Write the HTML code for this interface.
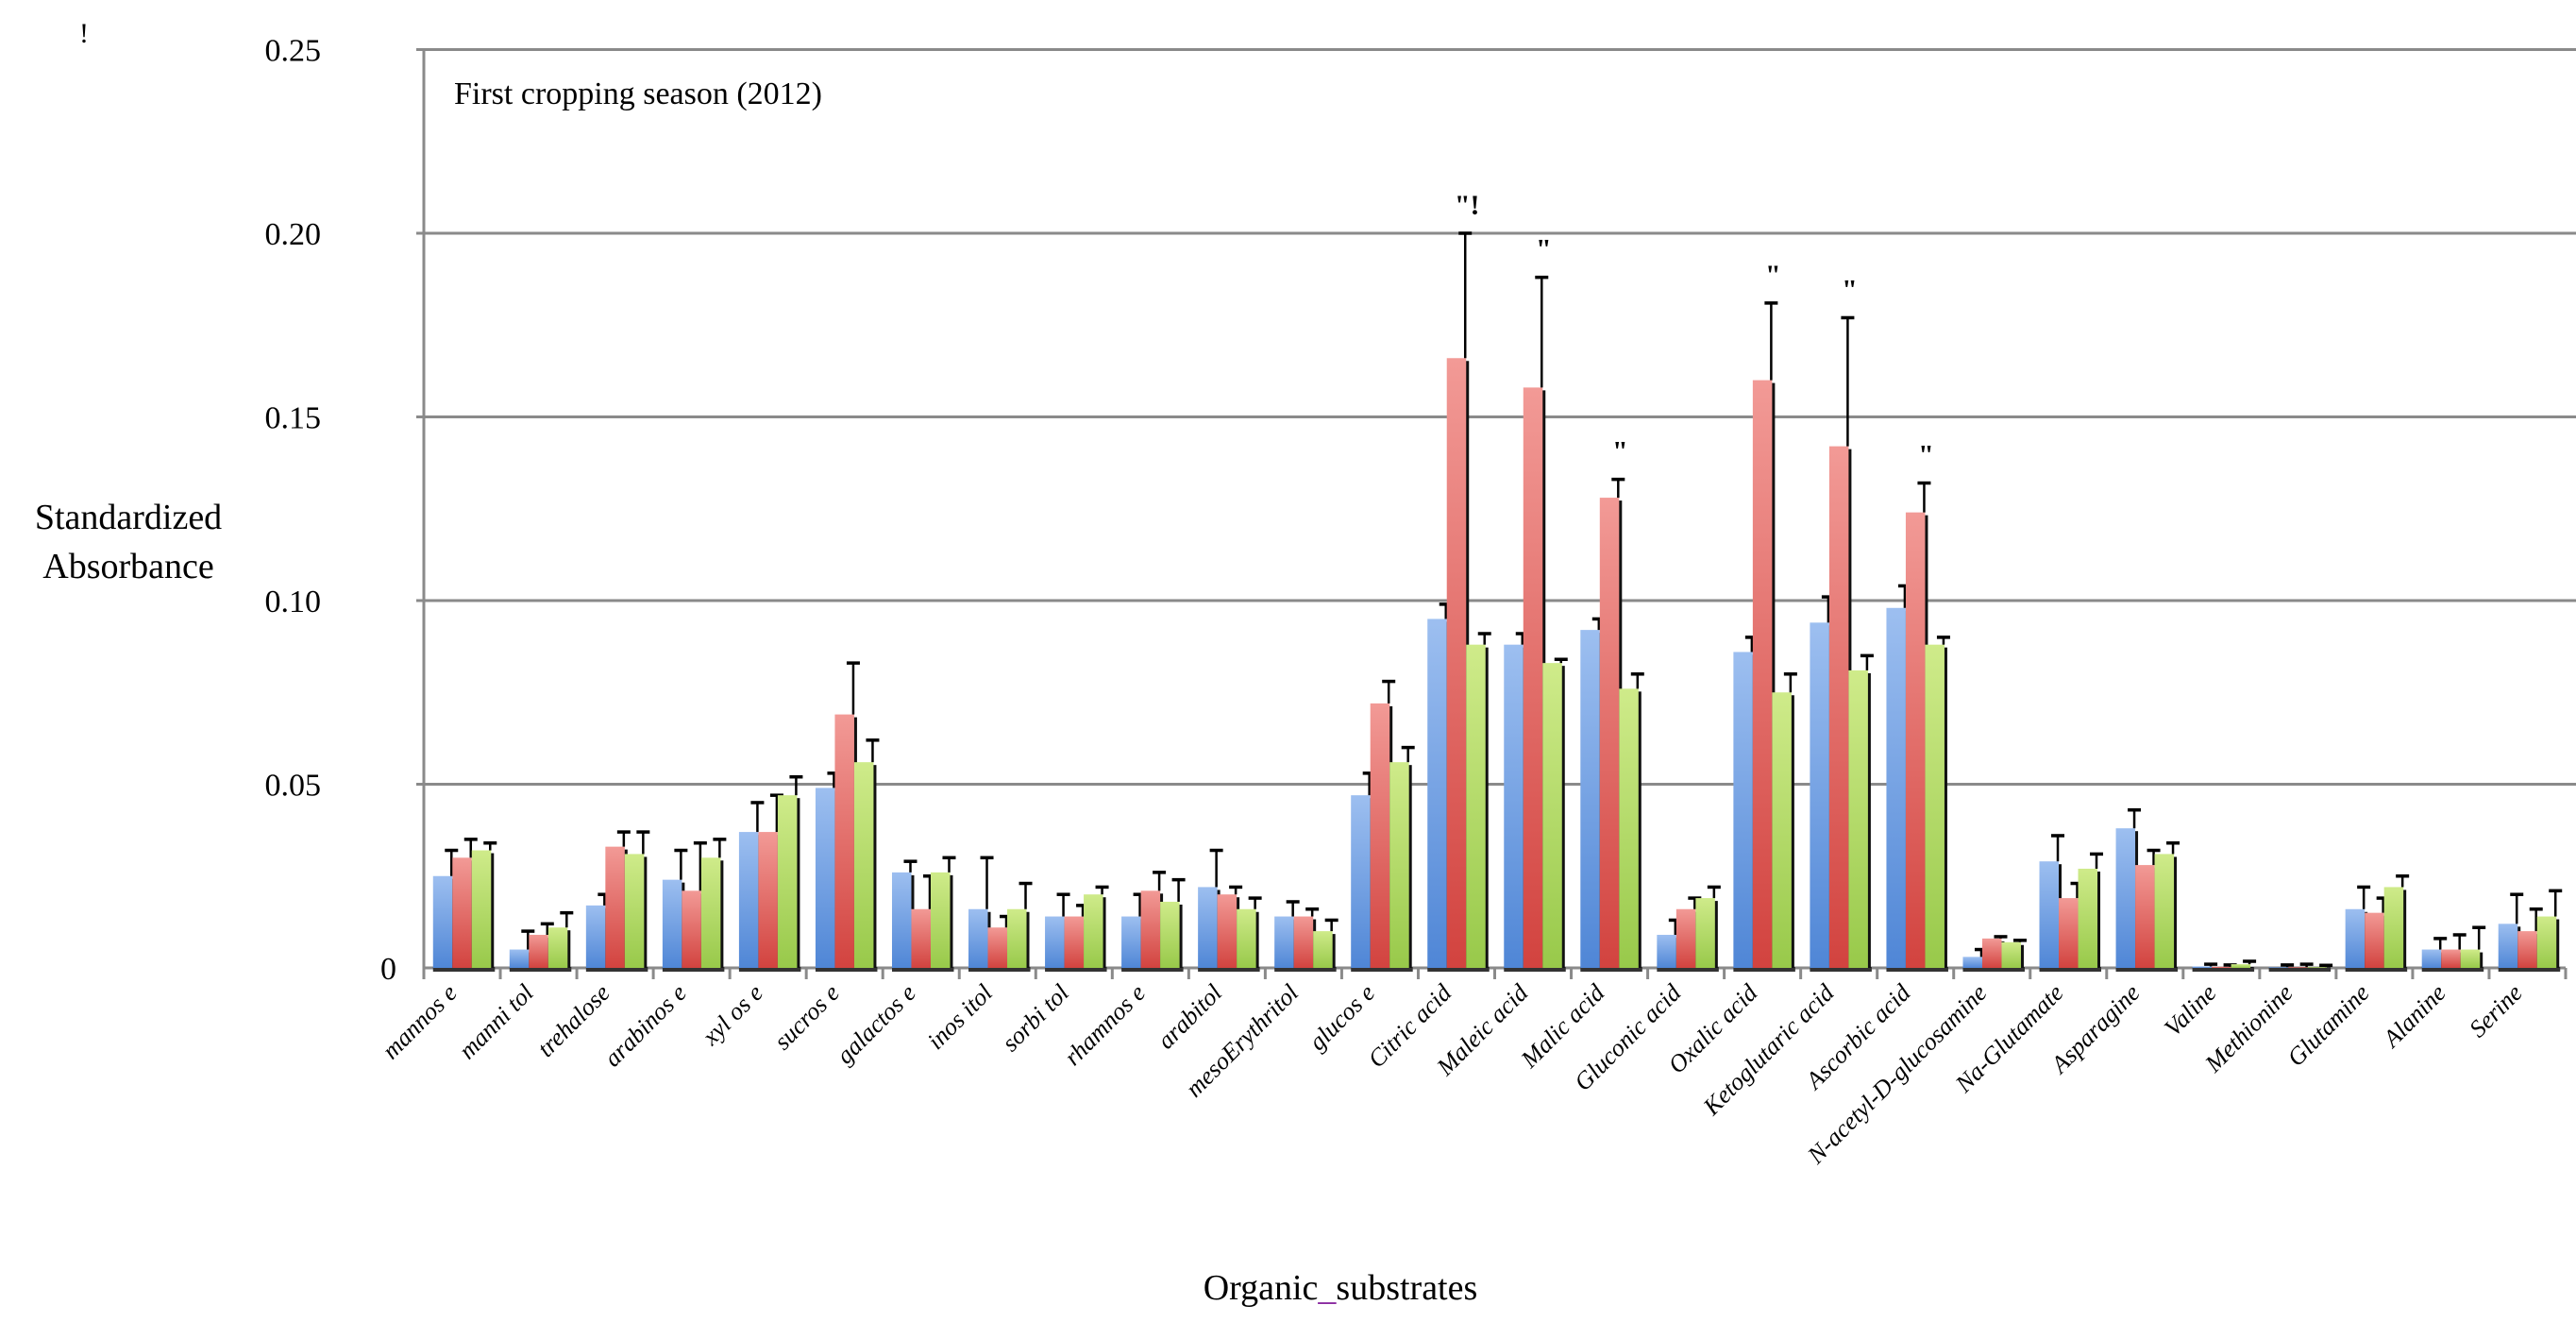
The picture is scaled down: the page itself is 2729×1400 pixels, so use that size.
<!DOCTYPE html>
<html><head><meta charset="utf-8"><style>
html,body{margin:0;padding:0;background:#fff;}
svg{display:block;font-family:"Liberation Serif",serif;}
</style></head><body>
<svg id="chart" width="2729" height="1400" viewBox="0 0 2729 1400" xmlns="http://www.w3.org/2000/svg">
<defs>
<linearGradient id="gb" x1="0" x2="0" y1="0" y2="1"><stop offset="0" stop-color="#9dbff0"/><stop offset="1" stop-color="#4f86d6"/></linearGradient>
<linearGradient id="gr" x1="0" x2="0" y1="0" y2="1"><stop offset="0" stop-color="#f29a96"/><stop offset="1" stop-color="#d2433f"/></linearGradient>
<linearGradient id="gg" x1="0" x2="0" y1="0" y2="1"><stop offset="0" stop-color="#cfeb8a"/><stop offset="1" stop-color="#98c94a"/></linearGradient>
</defs>
<g id="grid"></g>
<g id="bars"></g>
<g id="labels"></g>
<text x="84" y="45" font-size="30">!</text>
<text x="481" y="110" font-size="34">First cropping season (2012)</text>
<text x="136" y="560" font-size="38" text-anchor="middle">Standardized</text>
<text x="136" y="612" font-size="38" text-anchor="middle">Absorbance</text>
<text x="1420" y="1376" font-size="38" text-anchor="middle">Organic<tspan fill="#8a2aa0">_</tspan>substrates</text>
</svg>
<script>
const categories=["mannos e","manni tol","trehalose","arabinos e","xyl os e","sucros e","galactos e","inos itol","sorbi tol","rhamnos e","arabitol","mesoErythritol","glucos e","Citric acid","Maleic acid","Malic acid","Gluconic acid","Oxalic acid","Ketoglutaric acid","Ascorbic acid","N-acetyl-D-glucosamine","Na-Glutamate","Asparagine","Valine","Methionine","Glutamine","Alanine","Serine"];
const blueVals=[0.025,0.005,0.017,0.024,0.037,0.049,0.026,0.016,0.014,0.014,0.022,0.014,0.047,0.095,0.088,0.092,0.009,0.086,0.094,0.098,0.003,0.029,0.038,0.0004,0.0002,0.016,0.005,0.012];
const blueErr=[0.007,0.005,0.003,0.008,0.008,0.004,0.003,0.014,0.006,0.006,0.010,0.004,0.006,0.004,0.003,0.003,0.004,0.004,0.007,0.006,0.002,0.007,0.005,0.0006,0.0006,0.006,0.003,0.008];
const redVals=[0.030,0.009,0.033,0.021,0.037,0.069,0.016,0.011,0.014,0.021,0.020,0.014,0.072,0.166,0.158,0.128,0.016,0.160,0.142,0.124,0.008,0.019,0.028,0.0003,0.0002,0.015,0.005,0.010];
const redErr=[0.005,0.003,0.004,0.013,0.010,0.014,0.009,0.003,0.003,0.005,0.002,0.002,0.006,0.034,0.030,0.005,0.003,0.021,0.035,0.008,0.0005,0.004,0.004,0.0005,0.0008,0.004,0.004,0.006];
const greenVals=[0.032,0.011,0.031,0.030,0.047,0.056,0.026,0.016,0.020,0.018,0.016,0.010,0.056,0.088,0.083,0.076,0.019,0.075,0.081,0.088,0.007,0.027,0.031,0.001,0.0002,0.022,0.005,0.014];
const greenErr=[0.002,0.004,0.006,0.005,0.005,0.006,0.004,0.007,0.002,0.006,0.003,0.003,0.004,0.003,0.001,0.004,0.003,0.005,0.004,0.002,0.0005,0.004,0.003,0.0008,0.0005,0.003,0.006,0.007];
const markers=['','','','','','','','','','','','','','"!','"','"','','"','"','"','','','','','','','',''];
const yTicks=[0,0.05,0.10,0.15,0.20,0.25];
const yTickLabels=["0","0.05","0.10","0.15","0.20","0.25"];

const NS="http://www.w3.org/2000/svg";
const X0=449,X1=2718,Y0=1025,YS=3890;
const cw=(X1-X0)/categories.length;
const y=v=>Y0-v*YS;
const xc=i=>X0+cw*(i+0.5);
function mk(tag,attrs,parent){const e=document.createElementNS(NS,tag);for(const k in attrs)e.setAttribute(k,attrs[k]);parent.appendChild(e);return e;}
const grid=document.getElementById('grid'),bars=document.getElementById('bars'),labels=document.getElementById('labels');

yTicks.forEach((t,i)=>{
  if(t>0){const l=mk('line',{x1:X0-8,x2:2729,y1:y(t),y2:y(t),stroke:'#8a8a8a','stroke-width':3},grid);
  
  }
  const tx=mk('text',{x:t===0?420:340,y:y(t)+12,'font-size':34,'text-anchor':'end'},grid);
  tx.textContent=yTickLabels[i];
  
  
});
const ax=mk('line',{x1:X0,x2:X0,y1:y(0.25),y2:Y0,stroke:'#8a8a8a','stroke-width':3},grid);


const xa=mk('line',{x1:X0,x2:X1,y1:Y0,y2:Y0,stroke:'#8a8a8a','stroke-width':3},grid);


for(let i=0;i<=categories.length;i++){
  const tk=mk('line',{x1:X0+cw*i,x2:X0+cw*i,y1:Y0,y2:Y0+12,stroke:'#8a8a8a','stroke-width':3},grid);
  
  
}
const series=[[blueVals,blueErr,'url(#gb)','blue'],[redVals,redErr,'url(#gr)','red'],[greenVals,greenErr,'url(#gg)','green']];
const bw=20.5;
categories.forEach((c,i)=>{
  const cx=xc(i);
  const sh=mk('rect',{x:cx-bw*1.5,y:Y0-1,width:bw*3+4,height:5,fill:'#333'},bars);
  
  
  series.forEach((s,k)=>{
    const v=s[0][i],e=s[1][i];
    const bx=cx-bw*1.5+k*bw;
    const top=y(v);
    const sd=mk('rect',{x:bx+bw-1,y:top+3,width:4,height:Math.max(0,Y0-top-3),fill:'#111'},bars);
    
    
    const r=mk('rect',{x:bx,y:top,width:bw,height:Y0-top,fill:s[2]},bars);
    
    
    const ex=bx+bw-1, et=y(v+e);
    const el=mk('line',{x1:ex,x2:ex,y1:top,y2:et,stroke:'#000','stroke-width':2.5},bars);
    
    
    const ec=mk('line',{x1:ex-7,x2:ex+7,y1:et,y2:et,stroke:'#000','stroke-width':3.5},bars);
    
    
    if(k===1&&markers[i]){
      const m=mk('text',{x:ex+2,y:et-20,'font-size':30,'font-weight':'bold','text-anchor':'middle'},bars);
      m.textContent=markers[i];
      
      
    }
  });
  const lx=cx-4,ly=Y0+28;
  const t=mk('text',{x:lx,y:ly,'font-size':26,'font-style':'italic','text-anchor':'end',transform:`rotate(-45 ${lx} ${ly})`},labels);
  t.textContent=c;
  
  
});
</script>
</body></html>
